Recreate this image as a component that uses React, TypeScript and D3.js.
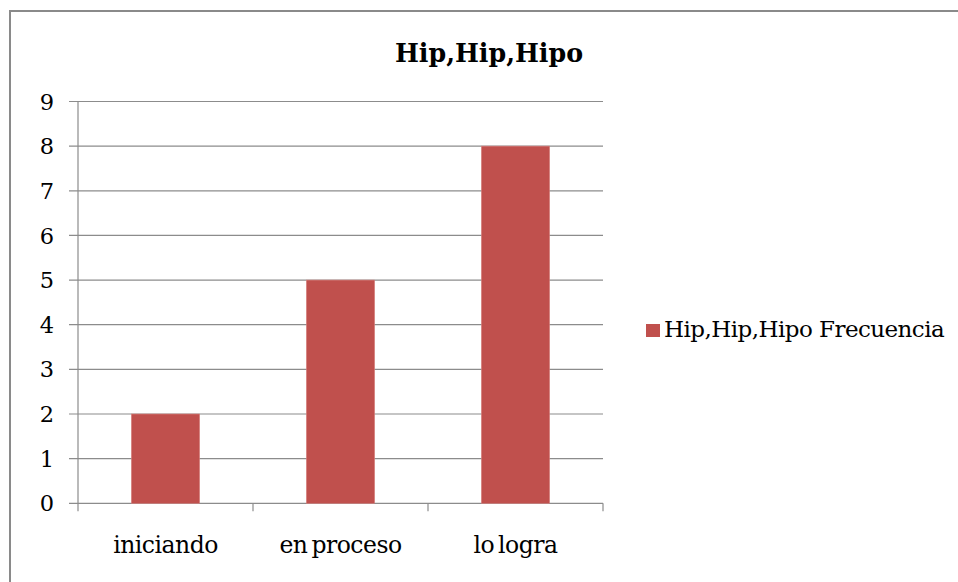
import React from "react";
import * as d3 from "d3";

const categories = ["iniciando", "en proceso", "lo logra"];
const values = [2, 5, 8];
const yTicks = [0, 1, 2, 3, 4, 5, 6, 7, 8, 9];
const title = "Hip,Hip,Hipo";
const seriesName = "Hip,Hip,Hipo Frecuencia";

const W = 958;
const H = 582;
const FONT = "'DejaVu Serif', serif";

export default function App() {
  const x = d3
    .scaleBand<string>()
    .domain(categories)
    .range([78, 603])
    .paddingInner(0.61)
    .paddingOuter(0.305);
  const xStep = x.step();
  const y = d3.scaleLinear().domain([0, 9]).range([503.3, 101.5]);
  const gridColor = "#8c8c8c";
  const barColor = "#C0504D";

  return (
    <svg
      width={W}
      height={H}
      style={{ position: "absolute", left: 0, top: 0, background: "#fff" }}
    >
      <rect x={0} y={0} width={W} height={H} fill="#fff" />
      <rect
        x={10}
        y={11}
        width={W + 20}
        height={H + 20}
        fill="none"
        stroke="#8a8a8a"
        strokeWidth={2}
      />
      <text
        x={489}
        y={62}
        textAnchor="middle"
        fontFamily={FONT}
        fontWeight="bold"
        fontSize={25.3}
        fill="#000"
      >
        {title}
      </text>
      {yTicks.map((t) => (
        <g key={t}>
          <line
            x1={69}
            x2={603}
            y1={y(t)}
            y2={y(t)}
            stroke={gridColor}
            strokeWidth={1.2}
          />
          <text
            x={54}
            y={y(t)}
            dy="0.36em"
            textAnchor="end"
            fontFamily={FONT}
            fontSize={22.5}
            fill="#000"
          >
            {t}
          </text>
        </g>
      ))}
      <line x1={78} x2={78} y1={y(9)} y2={y(0)} stroke={gridColor} strokeWidth={1.2} />
      {[0, 1, 2, 3].map((i) => {
        const tx = 78 + i * xStep;
        return (
          <line
            key={i}
            x1={tx}
            x2={tx}
            y1={y(0)}
            y2={y(0) + 8}
            stroke={gridColor}
            strokeWidth={1.2}
          />
        );
      })}
      {categories.map((c, i) => (
        <rect
          key={c}
          x={x(c)}
          y={y(values[i])}
          width={x.bandwidth()}
          height={y(0) - y(values[i])}
          fill={barColor}
          stroke="#d8817e"
          strokeWidth={0.6}
        />
      ))}
      {categories.map((c) => (
        <text
          key={c}
          x={(x(c) as number) + x.bandwidth() / 2}
          y={553}
          textAnchor="middle"
          fontFamily={FONT}
          fontSize={23.5}
          letterSpacing={-0.5}
          wordSpacing={-3}
          fill="#000"
        >
          {c}
        </text>
      ))}
      <rect x={646} y={324} width={14} height={13} fill={barColor} />
      <text
        x={664}
        y={337}
        fontFamily={FONT}
        fontSize={23}
        letterSpacing={-0.55}
        fill="#000"
      >
        {seriesName}
      </text>
    </svg>
  );
}
